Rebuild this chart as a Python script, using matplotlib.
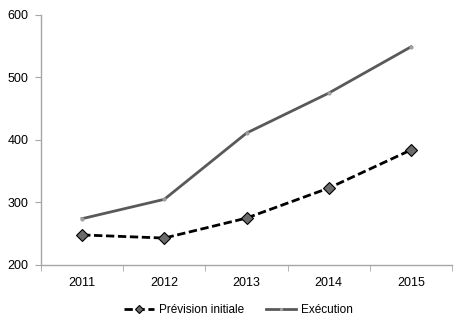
import numpy as np
from matplotlib import pyplot as plt

years = ['2011', '2012', '2013', '2014', '2015']
prevision = [248, 243, 275, 323, 384]
execution = [274, 305, 411, 475, 549]


def main():
    plt.rcParams['font.family'] = ['Liberation Sans', 'DejaVu Sans']
    fig = plt.figure(figsize=(4.69, 3.32), dpi=100)
    ax = fig.add_axes([0.0874, 0.202, 0.8766, 0.753])

    x = np.arange(len(years))
    ax.plot(x, prevision, linestyle=(0, (3, 1.3)), color='black', linewidth=2,
            marker='D', markersize=6, markerfacecolor='#6b6b6b',
            markeredgecolor='black', markeredgewidth=0.8, label='Prévision initiale')
    ax.plot(x, execution, linestyle='-', color='#595959', linewidth=2,
            marker='o', markersize=2, markerfacecolor='#a0a0a0',
            markeredgecolor='#a0a0a0', label='Exécution')

    ax.set_xlim(-0.5, len(years) - 0.5)
    ax.set_ylim(200, 600)
    ax.set_yticks([200, 300, 400, 500, 600])
    ax.set_xticks(x)
    ax.set_xticklabels(years)
    ax.set_xticks(np.arange(len(years) + 1) - 0.5, minor=True)

    for s in ['top', 'right']:
        ax.spines[s].set_visible(False)
    for s in ['left', 'bottom']:
        ax.spines[s].set_color('#a6a6a6')
        ax.spines[s].set_linewidth(1)

    ax.tick_params(axis='x', which='major', length=0, pad=9, labelsize=9)
    ax.tick_params(axis='x', which='minor', length=4, color='#a6a6a6', direction='out')
    ax.tick_params(axis='y', length=4, color='#a6a6a6', pad=5, labelsize=9)

    ax.legend(loc='upper center', bbox_to_anchor=(0.48, -0.115), ncol=2, frameon=False,
              fontsize=8.5, handlelength=2.6, columnspacing=1.8, handletextpad=0.4,
              markerscale=0.7)

    fig.savefig('out.png', dpi=100)


if __name__ == "__main__":
    main()
